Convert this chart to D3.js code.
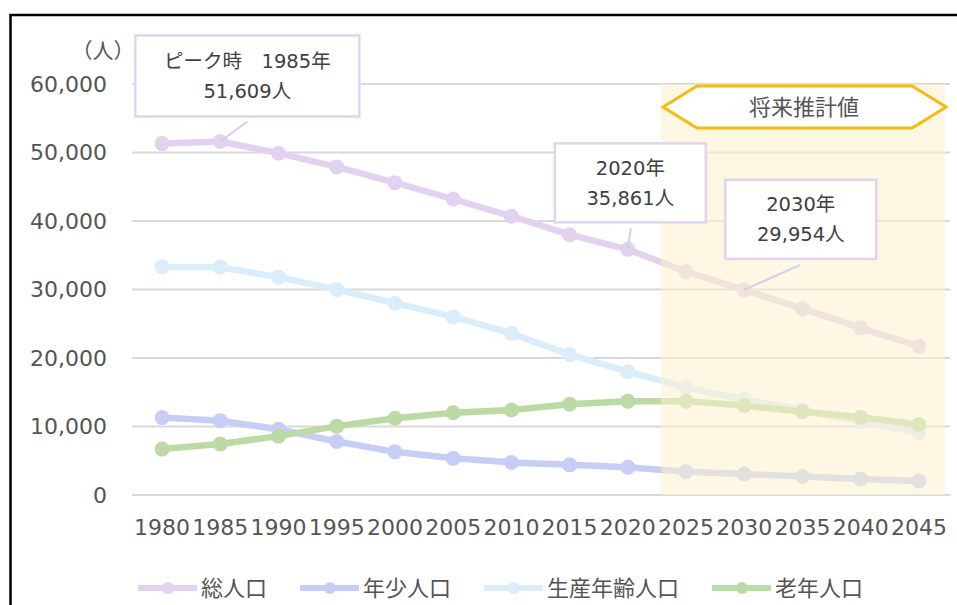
<!DOCTYPE html>
<html>
<head>
<meta charset="utf-8">
<script src="https://cdn.jsdelivr.net/npm/d3@7"></script>
<style>
  body { margin: 0; background: #fff; }
  svg { display: block; font-family: "DejaVu Sans", "Noto Sans CJK JP", sans-serif; }
</style>
</head>
<body>
<svg id="chart" width="957" height="605"></svg>
<script>
const years = [1980, 1985, 1990, 1995, 2000, 2005, 2010, 2015, 2020, 2025, 2030, 2035, 2040, 2045];
const total = [51300, 51609, 49900, 47900, 45600, 43200, 40700, 38000, 35861, 32600, 29954, 27200, 24400, 21700];
const young = [11300, 10850, 9600, 7800, 6300, 5350, 4750, 4400, 4050, 3400, 3050, 2700, 2350, 2050];
const working = [33300, 33250, 31800, 30000, 28000, 26000, 23600, 20500, 18000, 15700, 13950, 12400, 10700, 9100];
const elderly = [6700, 7450, 8600, 10050, 11200, 12000, 12400, 13250, 13700, 13700, 13050, 12150, 11350, 10300];
const seriesNames = ["総人口", "年少人口", "生産年齢人口", "老年人口"];
const yTicks = [0, 10000, 20000, 30000, 40000, 50000, 60000];
const forecastFrom = 2025;
const forecastLabel = "将来推計値";
const notes = [
  { year: 1985, lines: ["ピーク時　1985年", "51,609人"] },
  { year: 2020, lines: ["2020年", "35,861人"] },
  { year: 2030, lines: ["2030年", "29,954人"] }
];

const colors = ["#E2D2F0", "#C6CEF7", "#DAEDFB", "#BCDAA6"];
const seriesData = [total, young, working, elderly];

const svg = d3.select("#chart");

// frame (left + top only visible)
svg.append("rect")
  .attr("x", 10.5).attr("y", 15)
  .attr("width", 1000).attr("height", 700)
  .attr("fill", "none").attr("stroke", "#000").attr("stroke-width", 2.5);

const x = d3.scalePoint().domain(years).range([133, 948]).padding(0.5);
const y = d3.scaleLinear().domain([0, 60000]).range([495, 84]);

// grid
svg.append("g").selectAll("line")
  .data(yTicks).join("line")
  .attr("x1", 132).attr("x2", 950)
  .attr("y1", (d) => y(d)).attr("y2", (d) => y(d))
  .attr("stroke", "#D9D9D9").attr("stroke-width", 2);

// y labels
svg.append("g").selectAll("text")
  .data(yTicks).join("text")
  .attr("x", 107).attr("y", (d) => y(d))
  .attr("dy", "0.36em")
  .attr("text-anchor", "end")
  .style("font-size", "22px").attr("fill", "#555")
  .text((d) => d3.format(",")(d));

svg.append("text")
  .attr("x", 124).attr("y", 58)
  .attr("text-anchor", "end")
  .style("font-size", "21px")
  .style("font-family", "'Noto Sans CJK JP'")
  .style("font-feature-settings", "'halt'")
  .attr("fill", "#555")
  .text("（人）");

// x labels
svg.append("g").selectAll("text")
  .data(years).join("text")
  .attr("x", (d) => x(d)).attr("y", 535)
  .attr("text-anchor", "middle")
  .style("font-size", "22px").attr("fill", "#555")
  .text((d) => d);

// lines
const line = d3.line().x((d, i) => x(years[i])).y((d) => y(d));
seriesData.forEach((vals, k) => {
  const g = svg.append("g");
  g.append("path").datum(vals)
    .attr("d", line)
    .attr("fill", "none")
    .attr("stroke", colors[k])
    .attr("stroke-width", 6.5)
    .attr("stroke-linejoin", "round");
  g.selectAll("circle").data(vals).join("circle")
    .attr("cx", (d, i) => x(years[i]))
    .attr("cy", (d) => y(d))
    .attr("r", 7.5)
    .attr("fill", colors[k]);
});

// forecast overlay
const step = x.step();
const fx0 = x(forecastFrom) - step * 0.43;
const fx1 = x(years[years.length - 1]) + step * 0.45;
svg.append("rect")
  .attr("x", fx0).attr("y", y(60000))
  .attr("width", fx1 - fx0).attr("height", y(0) - y(60000))
  .attr("fill", "rgb(252,240,204)").attr("opacity", 0.55);

// hexagon label
const hy = 107, hh = 21, hin = 34;
svg.append("path")
  .attr("d", `M${fx0 + 2},${hy} L${fx0 + 2 + hin},${hy - hh} L${fx1 + 1 - hin},${hy - hh} L${fx1 + 1},${hy} L${fx1 + 1 - hin},${hy + hh} L${fx0 + 2 + hin},${hy + hh} Z`)
  .attr("fill", "#fff")
  .attr("stroke", "#F6BB12").attr("stroke-width", 3)
  .attr("stroke-linejoin", "miter");
svg.append("text")
  .attr("x", (fx0 + fx1) / 2 + 1).attr("y", hy)
  .attr("dy", "0.36em")
  .attr("text-anchor", "middle")
  .style("font-size", "22px").attr("fill", "#555")
  .text(forecastLabel);

// annotation boxes: box offset from point, leader start offset
const noteLayout = [
  { bx: -85, by: -106, bw: 224, bh: 81, lx: 27, ly: -20 },
  { bx: -73, by: -106, bw: 151, bh: 79, lx: 3, ly: -21 },
  { bx: -19, by: -110, bw: 151, bh: 79, lx: 56, ly: -25 }
];
notes.forEach((n, k) => {
  const L = noteLayout[k];
  const px = x(n.year);
  const py = y(total[years.indexOf(n.year)]);
  const g = svg.append("g");
  g.append("line")
    .attr("x1", px + L.lx).attr("y1", py + L.ly)
    .attr("x2", px).attr("y2", py)
    .attr("stroke", "#D8CBEE").attr("stroke-width", 2);
  g.append("rect")
    .attr("x", px + L.bx).attr("y", py + L.by)
    .attr("width", L.bw).attr("height", L.bh)
    .attr("fill", "#fff")
    .attr("stroke", "#E0D5F0").attr("stroke-width", 2.5);
  g.selectAll("text").data(n.lines).join("text")
    .attr("x", px + L.bx + L.bw / 2)
    .attr("y", (d, i) => py + L.by + L.bh / 2 - 15 + i * 30)
    .attr("dy", "0.36em")
    .attr("text-anchor", "middle")
    .style("font-size", "19.5px").attr("fill", "#404040")
    .text((d) => d);
});

// legend
const legend = svg.append("g");
let lx = 138;
const ly = 588;
seriesNames.forEach((name, k) => {
  legend.append("line")
    .attr("x1", lx).attr("x2", lx + 59)
    .attr("y1", ly).attr("y2", ly)
    .attr("stroke", colors[k]).attr("stroke-width", 6);
  legend.append("circle")
    .attr("cx", lx + 30).attr("cy", ly).attr("r", 6)
    .attr("fill", colors[k]);
  const t = legend.append("text")
    .attr("x", lx + 63).attr("y", ly)
    .attr("dy", "0.36em")
    .style("font-size", "22px").attr("fill", "#555")
    .text(name);
  lx += 63 + t.node().getComputedTextLength() + 33;
});
</script>
</body>
</html>
